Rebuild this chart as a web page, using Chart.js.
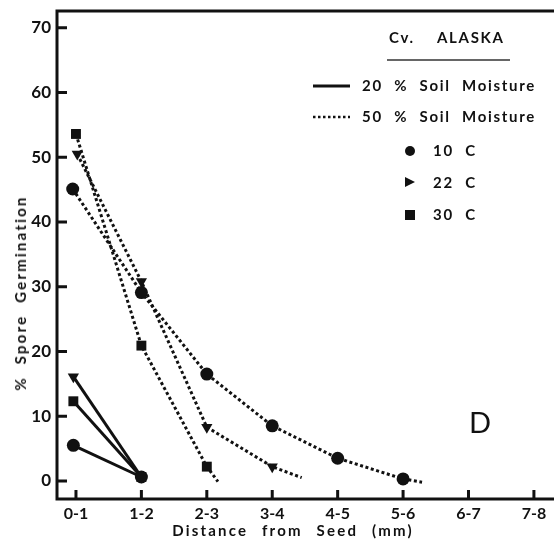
<!DOCTYPE html>
<html>
<head>
<meta charset="utf-8">
<script src="https://cdn.jsdelivr.net/npm/chart.js@4/dist/chart.umd.min.js"></script>
<style>
  body { margin: 0; background: #fff; }
  #wrap { position: relative; width: 554px; height: 539px; overflow: hidden; font-family: "Lato", sans-serif; color: #111; }
  canvas { position: absolute; left: 0; top: 0; }
  .txt { position: absolute; white-space: nowrap; font-weight: 700; }
  .leg { font-size: 15px; letter-spacing: 1.7px; word-spacing: 6px; }
  svg { position: absolute; overflow: visible; }
</style>
</head>
<body>
<div id="wrap">
  <canvas id="chart" width="554" height="539"></canvas>

  <div class="txt leg" style="left:389px; top:28px;">Cv.&nbsp; ALASKA</div>
  <svg style="left:387px; top:59px;" width="124" height="2"><line x1="0" y1="1" x2="123" y2="1" stroke="#333" stroke-width="1.5"/></svg>

  <svg style="left:313px; top:84px;" width="38" height="4"><line x1="0" y1="2" x2="37" y2="2" stroke="#111" stroke-width="3"/></svg>
  <div class="txt leg" style="left:362px; top:76px;">20 % Soil Moisture</div>
  <svg style="left:313px; top:115px;" width="38" height="4"><line x1="0" y1="2" x2="37" y2="2" stroke="#111" stroke-width="2.5" stroke-dasharray="2.5 2.5"/></svg>
  <div class="txt leg" style="left:362px; top:107px;">50 % Soil Moisture</div>

  <svg style="left:404px; top:145px;" width="12" height="12"><circle cx="6" cy="6" r="5" fill="#111"/></svg>
  <div class="txt leg" style="left:433px; top:141px;">10 C</div>
  <svg style="left:405px; top:177px;" width="12" height="12"><polygon points="0,0 10,5 0,10" fill="#111"/></svg>
  <div class="txt leg" style="left:433px; top:173px;">22 C</div>
  <svg style="left:405px; top:210px;" width="12" height="12"><rect x="0" y="0" width="10" height="10" fill="#111"/></svg>
  <div class="txt leg" style="left:433px; top:205px;">30 C</div>

  <div class="txt" style="left:469px; top:404px; font-size:29px; font-weight:400;">D</div>

  <div class="txt" style="left:20px; top:293px; font-size:15px; letter-spacing:2.2px; word-spacing:6px; transform: translate(-50%, -50%) rotate(-90deg);">% Spore Germination</div>
  <div class="txt" style="left:293px; top:530px; font-size:15px; letter-spacing:2.2px; word-spacing:8px; transform: translate(-50%, -50%);">Distance from Seed (mm)</div>
</div>

<script>
const xLabels = ["0-1", "1-2", "2-3", "3-4", "4-5", "5-6", "6-7", "7-8"];
const yTicks = [0, 10, 20, 30, 40, 50, 60, 70];

// 50 % soil moisture (dotted); last point of each is the line's tail, no marker
const x10_50 = [-0.05, 1, 2, 3, 4, 5, 5.29];
const y10_50 = [45.1, 29.1, 16.5, 8.5, 3.5, 0.3, -0.2];
const x22_50 = [0.02, 1, 2, 3, 3.45];
const y22_50 = [50.5, 30.8, 8.3, 2.2, 0.5];
const x30_50 = [0, 1, 2, 2.17];
const y30_50 = [53.6, 20.9, 2.2, -0.1];

// 20 % soil moisture (solid)
const x_20 = [-0.04, 1];
const y10_20 = [5.5, 0.6];
const y22_20 = [16.1, 0.6];
const y30_20 = [12.3, 0.6];

const INK = "#111";

function points(xs, ys) {
  return xs.map((x, i) => ({ x: x, y: ys[i] }));
}

function radii(n, r, tail) {
  const out = new Array(n).fill(r);
  if (tail) out[n - 1] = 0;
  return out;
}

function series(xs, ys, style, dotted, tail) {
  const r = style === "rect" ? 7 : 6.5;
  return {
    data: points(xs, ys),
    showLine: true,
    borderColor: INK,
    backgroundColor: INK,
    borderWidth: 3,
    borderDash: dotted ? [3, 2.6] : [],
    pointStyle: style,
    rotation: style === "triangle" ? 180 : 0,
    pointRadius: radii(xs.length, r, tail),
    pointBorderWidth: 0,
    tension: 0,
  };
}

const frame = {
  id: "frame",
  beforeDatasetsDraw(chart) {
    const { ctx, chartArea: a, scales } = chart;
    ctx.save();
    ctx.strokeStyle = INK;
    ctx.lineWidth = 3;
    ctx.beginPath();
    ctx.moveTo(554, a.top);
    ctx.lineTo(a.left, a.top);
    ctx.lineTo(a.left, a.bottom);
    ctx.lineTo(554, a.bottom);
    ctx.stroke();
    ctx.beginPath();
    for (const v of yTicks) {
      const y = scales.y.getPixelForValue(v);
      ctx.moveTo(a.left, y);
      ctx.lineTo(a.left + 10, y);
    }
    xLabels.forEach((_, i) => {
      const x = scales.x.getPixelForValue(i);
      ctx.moveTo(x, a.bottom);
      ctx.lineTo(x, a.bottom - 9);
    });
    ctx.stroke();
    ctx.restore();
  },
};

Chart.defaults.font.family = "Lato";
Chart.defaults.color = INK;

new Chart(document.getElementById("chart"), {
  type: "scatter",
  data: {
    datasets: [
      series(x10_50, y10_50, "circle", true, true),
      series(x22_50, y22_50, "triangle", true, true),
      series(x30_50, y30_50, "rect", true, true),
      series(x_20, y10_20, "circle", false, false),
      series(x_20, y22_20, "triangle", false, false),
      series(x_20, y30_20, "rect", false, false),
    ],
  },
  options: {
    responsive: false,
    animation: false,
    layout: { padding: { top: 11, right: 0, left: 0, bottom: 0 } },
    plugins: { legend: { display: false }, tooltip: { enabled: false } },
    scales: {
      x: {
        type: "linear",
        min: -0.29,
        max: 7.2,
        grid: { display: false, drawTicks: false },
        border: { display: false },
        afterFit(scale) {
          scale.height = 40;
          scale.paddingLeft = 0;
          scale.paddingRight = 0;
        },
        afterBuildTicks(scale) { scale.ticks = xLabels.map((_, i) => ({ value: i })); },
        ticks: {
          padding: 5,
          font: { size: 16, weight: "bold" },
          callback: (v) => xLabels[v],
          maxRotation: 0,
          autoSkip: false,
        },
      },
      y: {
        min: -2.8,
        max: 72.6,
        grid: { display: false, drawTicks: false },
        border: { display: false },
        afterFit(scale) {
          scale.width = 57;
          scale.paddingTop = 0;
          scale.paddingBottom = 0;
        },
        afterBuildTicks(scale) { scale.ticks = yTicks.map((v) => ({ value: v })); },
        ticks: { padding: 6, font: { size: 17, weight: "bold" } },
      },
    },
  },
  plugins: [frame],
});
</script>
</body>
</html>
